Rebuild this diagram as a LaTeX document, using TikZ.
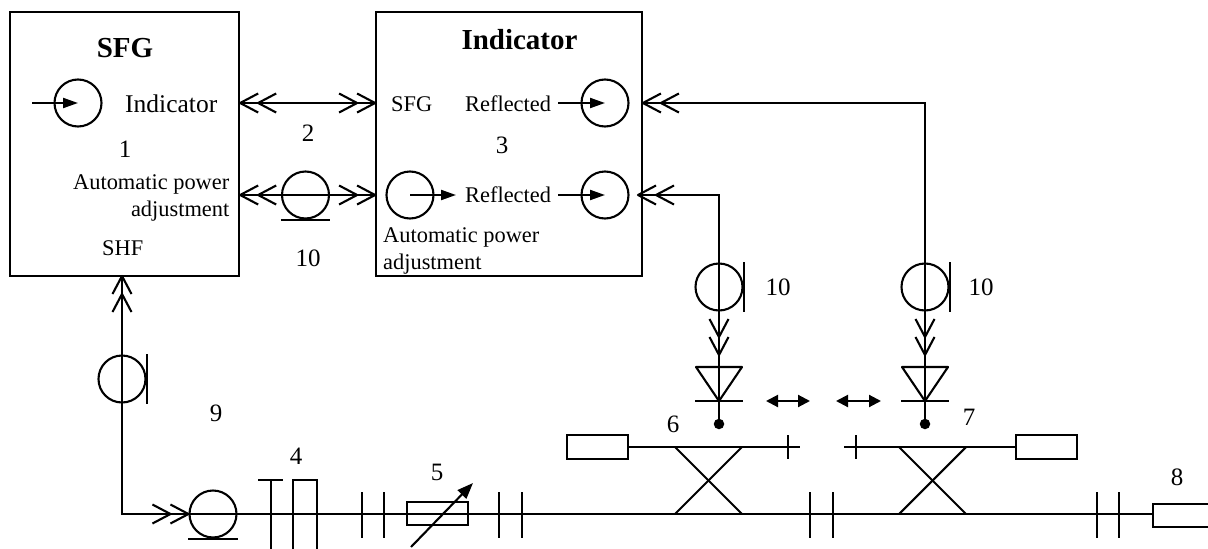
\documentclass[tikz,border=0pt]{standalone}
\usepackage{fontspec}
\setmainfont{Liberation Serif}
\usetikzlibrary{arrows.meta,calc}
\tikzset{
  x=1pt,y=-1pt,
  wire/.style={draw,line width=2.1pt},
  unitbox/.style={draw,line width=2.3pt,rectangle,minimum width=#1,inner sep=0pt,minimum height=264pt},
  meter/.style={draw,circle,line width=2.1pt,minimum size=47pt,inner sep=0pt},
  load/.style={draw,rectangle,line width=2.1pt,minimum width=61pt,minimum height=24pt,inner sep=0pt},
  dotnode/.style={fill=black,circle,minimum size=10.5pt,inner sep=0pt},
  lab/.style={anchor=base,inner sep=0pt,font=\fontsize{22.4}{24}\selectfont},
  labl/.style={lab,anchor=base west},
  labr/.style={lab,anchor=base east},
  num/.style={lab,font=\fontsize{25}{27}\selectfont},
  big/.style={lab,font=\fontsize{25.5}{27}\selectfont},
  title/.style={lab,font=\bfseries\fontsize{29}{31}\selectfont},
  fwd/.tip={Triangle[length=15pt,width=10pt]},
  tiny/.tip={Triangle[length=12pt,width=12pt]},
  chev/.pic={
    \draw[wire,line join=round] (18,-9.5) -- (0,0) -- (18,9.5);
    \draw[wire,line join=round] (36,-9.5) -- (18,0) -- (36,9.5);
  },
}
\begin{document}
\begin{tikzpicture}
\useasboundingbox (0,0) rectangle (1208,549);
% instrument boxes
\node[unitbox=229pt] (sfg) at (124.5,144) {};
\node[unitbox=265.5pt] (ind) at (509,144) {};
% meters
\node[meter] (m1) at (78,103) {};
\node[meter] (m2) at (605,103) {};
\node[meter] (m3) at (605,195) {};
\node[meter] (m4) at (410,195) {};
% coax reels
\node[meter] (reel) at (305.5,195) {};
\node[meter] (c1) at (719,287) {};
\node[meter] (c2) at (925,287) {};
\node[meter] (c3) at (122,379) {};
\node[meter] (reelb) at (213,514) {};
% anchors
\coordinate (a1) at (sfg.east |- m1);
\coordinate (a2) at (ind.west |- m1);
\coordinate (a3) at (sfg.east |- reel);
\coordinate (a4) at (ind.west |- reel);
\coordinate (r1) at (ind.east |- m2);
\coordinate (r2) at (638,195);
\coordinate (up) at (122,276);
\coordinate (corner) at (122,514);
\coordinate (d1) at (719,367);
\coordinate (d2) at (925,367);
\node[dotnode] (p1) at (719,424) {};
\node[dotnode] (p2) at (925,424) {};
\coordinate (k1) at (719,401);
\coordinate (k2) at (925,401);
% loads
\node[load] (l1) at (597.5,447) {};
\node[load] (l2) at (1046.5,447) {};
\coordinate (l3) at (1153,514);
% connectors between the boxes
\draw[wire] (a1) -- (a2);
\draw[wire] (a3) -- (a4);
\draw[wire] (r1) -| (c2.center) -- (d2);
\draw[wire] (r2) -| (c1.center) -- (d1);
\draw[wire] (up) -- (corner) -- (reelb.west);
\pic at (a1) {chev};
\pic[rotate=180] at (a2) {chev};
\pic at (a3) {chev};
\pic[rotate=180] at (a4) {chev};
\pic at (r1) {chev};
\pic at (r2) {chev};
\pic[rotate=-90] at (up) {chev};
\pic[rotate=180] at (reelb.west) {chev};
\pic[rotate=90] at (719,355) {chev};
\pic[rotate=90] at (925,355) {chev};
% indicator arrows
\coordinate (i1) at (32,103);
\coordinate (i2) at (558,103);
\coordinate (i3) at (558,195);
\coordinate (i4) at (456,195);
\draw[wire,-{fwd}] (i1) -- (m1.center);
\draw[wire,-{fwd}] (i2) -- (m2.center);
\draw[wire,-{fwd}] (i3) -- (m3.center);
\draw[wire,-{fwd}] (m4.center) -- (i4);
% reel bases and bars
\draw[wire] (reel.west |- reel.south) -- (reel.east |- reel.south);
\draw[wire] (reelb.west |- reelb.south) -- (reelb.east |- reelb.south);
\draw[wire] (c1.east |- c1.north) -- (c1.east |- c1.south);
\draw[wire] (c2.east |- c2.north) -- (c2.east |- c2.south);
\draw[wire] (c3.east |- c3.north) -- (c3.east |- c3.south);
% detectors
\foreach \d/\k/\p in {d1/k1/p1,d2/k2/p2}{
  \draw[wire,line join=round] ($(\d)+(-23,0)$) -- ($(\d)+(23,0)$) -- (\k) -- cycle;
  \draw[wire] ($(\k)+(-24,0)$) -- ($(\k)+(24,0)$);
  \draw[wire] (\d) -- (\p);
}
% small movement arrows
\coordinate (s1) at (766,401);
\coordinate (s2) at (810,401);
\coordinate (s3) at (836,401);
\coordinate (s4) at (881,401);
\draw[wire,{tiny}-{tiny}] (s1) -- (s2);
\draw[wire,{tiny}-{tiny}] (s3) -- (s4);
% couplers
\coordinate (e1) at (800,447);
\coordinate (e2) at (844,447);
\draw[wire] (l1.east) -- (e1);
\draw[wire] (e2) -- (l2.west);
\draw[wire] (788,435) -- (788,459);
\draw[wire] (856,435) -- (856,459);
\draw[wire] (675,447) -- (742,514);
\draw[wire] (742,447) -- (675,514);
\draw[wire] (899,447) -- (966,514);
\draw[wire] (966,447) -- (899,514);
% main line
\draw[wire] (reelb.west) -- (l3);
\draw[wire] (1208,504) -- (1153,504) -- (1153,527) -- (1208,527);
\foreach \x in {362,384,499,522,810,833,1097,1119}{
  \draw[wire] (\x,492) -- (\x,538);
}
% T and pi stubs
\draw[wire] (258,480) -- (283,480);
\draw[wire] (271,480) -- (271,549);
\draw[wire] (293,549) -- (293,480) -- (317,480) -- (317,549);
% variable attenuator
\node[draw,rectangle,line width=2.1pt,minimum width=61pt,minimum height=23pt,inner sep=0pt] (att) at (437.5,513.5) {};
\coordinate (v1) at (411,547);
\coordinate (v2) at (473,483);
\draw[wire,-{Triangle[length=16pt,width=12pt]}] (v1) -- (v2);
% texts
\node[title] (t1) at (125,57) {SFG};
\node[big,anchor=base west] (t2) at (125,112) {Indicator};
\node[num] (n1) at (125,157) {1};
\node[labr] (t3) at (229.5,189.5) {Automatic power};
\node[labr] (t4) at (229.5,216) {adjustment};
\node[labl] (t5) at (102,255) {SHF};
\node[num] (n2) at (308,141) {2};
\node[num] (n10a) at (308,266) {10};
\node[title] (t6) at (519.5,49) {Indicator};
\node[labl] (t7) at (391,111) {SFG};
\node[labl] (t8) at (465,111) {Reflected};
\node[num] (n3) at (502,153) {3};
\node[labl] (t9) at (465,202) {Reflected};
\node[labl] (t10) at (383,242) {Automatic power};
\node[labl] (t11) at (383,269) {adjustment};
\node[num] (n10b) at (778,295) {10};
\node[num] (n10c) at (981,295) {10};
\node[num] (n9) at (216,421) {9};
\node[num] (n4) at (296,464) {4};
\node[num] (n5) at (437,480) {5};
\node[num] (n6) at (673,432) {6};
\node[num] (n7) at (969,425) {7};
\node[num] (n8) at (1177,485) {8};
\end{tikzpicture}
\end{document}
